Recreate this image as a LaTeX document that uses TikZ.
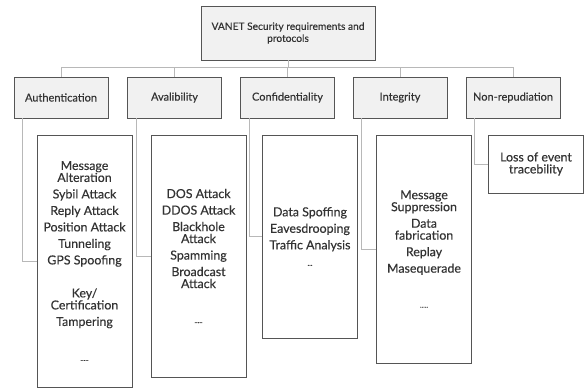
\documentclass[tikz,border=0pt]{standalone}
\usepackage{fontspec}
\setmainfont{Lato}[FakeBold=0.35]
\usetikzlibrary{positioning}
\definecolor{boxfill}{HTML}{F1F1F1}
\definecolor{boxline}{HTML}{555555}
\definecolor{linkline}{HTML}{B8B8B8}
\definecolor{txt}{HTML}{333333}
\tikzset{
  topbox/.style={draw=boxline, fill=boxfill, line width=0.9pt, minimum width=174pt, minimum height=54pt, align=center, text=txt, font=\fontsize{10.2}{12}\selectfont},
  catbox/.style={draw=boxline, fill=boxfill, line width=0.9pt, minimum width=94pt, minimum height=41pt, text=txt, font=\fontsize{11}{12}\selectfont},
  leafbox/.style={draw=boxline, line width=0.9pt, minimum width=95pt, align=center, text=txt, inner sep=0pt, font=\fontsize{12.4}{12}\selectfont},
  link/.style={draw=linkline, line width=0.8pt}
}
\begin{document}
\begin{tikzpicture}[x=1pt, y=-1pt]
\useasboundingbox (0,0) rectangle (585,388);
\node[topbox] (root) at (288,33) {VANET Security requirements and\\protocols};
\node[catbox] (auth) at (61,97.5) {Authentication};
\node[catbox] (avail) at (174.5,97.5) {Avalibility};
\node[catbox] (conf) at (287.5,97.5) {Confidentiality};
\node[catbox] (integ) at (400,97.5) {Integrity};
\node[catbox] (nonrep) at (513,97.5) {Non-repudiation};
\coordinate (bus) at (288,67);
\draw[link] (root.south) -- (bus);
\foreach \c in {auth,avail,conf,integ,nonrep}
  \draw[link] (bus) -| (\c.north);
\node[leafbox, minimum height=252pt] (authl) at (84.5,261) {Message\\Alteration\\[4.5pt] Sybil Attack\\[4.5pt] Reply Attack\\[4.5pt] Position Attack\\[4.5pt] Tunneling\\[4.5pt] GPS Spoofing\\[21pt] Key/\\Certification\\[4.5pt] Tampering\\[23pt] {\scriptsize .....}};
\node[leafbox, minimum height=242pt] (availl) at (198.5,256) {DOS Attack\\[4.5pt] DDOS Attack\\[4.5pt] Blackhole\\Attack\\[4.5pt] Spamming\\[4.5pt] Broadcast\\Attack\\[23pt] {\scriptsize .....}};
\node[leafbox, minimum height=203pt] (confl) at (310,236.5) {Data Spoffing\\[4.5pt] Eavesdrooping\\[4.5pt] Traffic Analysis\\[4.5pt] {\scriptsize ...}};
\node[leafbox, minimum height=228pt] (integl) at (424,249) {Message\\Suppression\\[4.5pt] Data\\fabrication\\[4.5pt] Replay\\[4.5pt] Masequerade\\[23pt] {\scriptsize .....}};
\node[leafbox, minimum height=58pt] (nonrepl) at (536,164) {Loss of event\\tracebility};
\draw[link] ([xshift=9pt]auth.south west) |- (authl.west);
\draw[link] ([xshift=9pt]avail.south west) |- (availl.west);
\draw[link] ([xshift=9pt]conf.south west) |- (confl.west);
\draw[link] ([xshift=9pt]integ.south west) |- (integl.west);
\draw[link] ([xshift=9pt]nonrep.south west) |- (nonrepl.west);
\end{tikzpicture}
\end{document}
